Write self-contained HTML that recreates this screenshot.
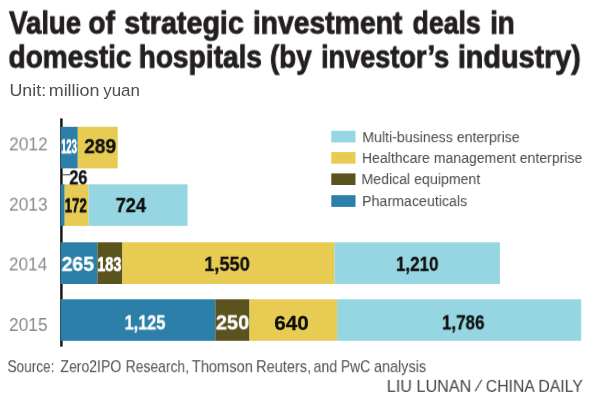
<!DOCTYPE html>
<html><head><meta charset="utf-8">
<style>
html,body{margin:0;padding:0;background:#fff;}
body{width:600px;height:400px;position:relative;overflow:hidden;font-family:"Liberation Sans",sans-serif;}
.t{position:absolute;left:0;top:0;white-space:nowrap;transform-origin:0 0;line-height:1;will-change:transform;}
svg{position:absolute;left:0;top:0;}
</style></head><body>
<svg width="600" height="400" viewBox="0 0 600 400">
<rect x="60.2" y="118.4" width="2.4" height="228.2" fill="#111"/>
<rect x="62.5" y="174.3" width="7.5" height="1" fill="#444"/>
<rect x="60.7" y="126.8" width="17.1" height="41.6" fill="#2b7fa9"/>
<rect x="77.8" y="126.8" width="39.9" height="41.6" fill="#e8cb52"/>
<rect x="60.7" y="184.3" width="4.0" height="41.6" fill="#2b7fa9"/>
<rect x="64.7" y="184.3" width="23.8" height="41.6" fill="#e8cb52"/>
<rect x="88.5" y="184.3" width="99" height="41.6" fill="#96d6e3"/>
<rect x="60.7" y="242.3" width="36.7" height="41.7" fill="#2b7fa9"/>
<rect x="97.4" y="242.3" width="25" height="41.7" fill="#5b531d"/>
<rect x="122.4" y="242.3" width="212.1" height="41.7" fill="#e8cb52"/>
<rect x="334.5" y="242.3" width="165.4" height="41.7" fill="#96d6e3"/>
<rect x="60.7" y="299.3" width="154.6" height="41.5" fill="#2b7fa9"/>
<rect x="215.3" y="299.3" width="34.2" height="41.5" fill="#5b531d"/>
<rect x="249.5" y="299.3" width="87.6" height="41.5" fill="#e8cb52"/>
<rect x="337.1" y="299.3" width="244.1" height="41.5" fill="#96d6e3"/>
<rect x="331.3" y="130.8" width="24.2" height="11.6" fill="#96d6e3"/>
<rect x="331.3" y="152.1" width="24.2" height="11.6" fill="#e8cb52"/>
<rect x="331.3" y="173.4" width="24.2" height="11.6" fill="#5b531d"/>
<rect x="331.3" y="195.2" width="24.2" height="11.7" fill="#2b7fa9"/>
</svg>
<div class="t" id="h1w0" style="font-size:31.00px;transform:translate(9.15px,7.58px) scaleX(0.8880);font-weight:bold;color:#231f20;-webkit-text-stroke:0.9px #231f20;">Value </div>
<div class="t" id="h1w1" style="font-size:31.00px;transform:translate(88.39px,7.58px) scaleX(0.9026);font-weight:bold;color:#231f20;-webkit-text-stroke:0.9px #231f20;">of </div>
<div class="t" id="h1w2" style="font-size:31.00px;transform:translate(124.33px,7.58px) scaleX(0.9248);font-weight:bold;color:#231f20;-webkit-text-stroke:0.9px #231f20;">strategic </div>
<div class="t" id="h1w3" style="font-size:31.00px;transform:translate(252.86px,7.58px) scaleX(0.9133);font-weight:bold;color:#231f20;-webkit-text-stroke:0.9px #231f20;">investment </div>
<div class="t" id="h1w4" style="font-size:31.00px;transform:translate(412.54px,7.58px) scaleX(0.8595);font-weight:bold;color:#231f20;-webkit-text-stroke:0.9px #231f20;">deals </div>
<div class="t" id="h1w5" style="font-size:31.00px;transform:translate(490.15px,7.58px) scaleX(0.8931);font-weight:bold;color:#231f20;-webkit-text-stroke:0.9px #231f20;">in </div>
<div class="t" id="h2w0" style="font-size:31.00px;transform:translate(8.49px,41.57px) scaleX(0.9038);font-weight:bold;color:#231f20;-webkit-text-stroke:0.9px #231f20;">domestic </div>
<div class="t" id="h2w1" style="font-size:31.00px;transform:translate(138.61px,41.57px) scaleX(0.9068);font-weight:bold;color:#231f20;-webkit-text-stroke:0.9px #231f20;">hospitals </div>
<div class="t" id="h2w2" style="font-size:31.00px;transform:translate(269.93px,41.57px) scaleX(0.8979);font-weight:bold;color:#231f20;-webkit-text-stroke:0.9px #231f20;">(by </div>
<div class="t" id="h2w3" style="font-size:31.00px;transform:translate(321.04px,41.57px) scaleX(0.8745);font-weight:bold;color:#231f20;-webkit-text-stroke:0.9px #231f20;">investor’s </div>
<div class="t" id="h2w4" style="font-size:31.00px;transform:translate(457.84px,41.57px) scaleX(0.9270);font-weight:bold;color:#231f20;-webkit-text-stroke:0.9px #231f20;">industry) </div>
<div class="t" id="y1" style="font-size:18.70px;transform:translate(9.04px,135.38px) scaleX(0.9292);color:#8a8a8a;">2012</div>
<div class="t" id="y2" style="font-size:18.70px;transform:translate(9.01px,195.64px) scaleX(0.9276);color:#8a8a8a;">2013</div>
<div class="t" id="y3" style="font-size:18.70px;transform:translate(8.92px,255.45px) scaleX(0.9198);color:#8a8a8a;">2014</div>
<div class="t" id="y4" style="font-size:18.70px;transform:translate(8.93px,315.96px) scaleX(0.9297);color:#8a8a8a;">2015</div>
<div class="t" id="v123" style="font-size:20.00px;transform:translate(61.05px,136.28px) scaleX(0.4751);font-weight:bold;color:#fff;-webkit-text-stroke:0.7px #fff;">123</div>
<div class="t" id="v289" style="font-size:20.00px;transform:translate(84.20px,136.08px) scaleX(0.9564);font-weight:bold;color:#111;-webkit-text-stroke:0.3px #111;">289</div>
<div class="t" id="v26" style="font-size:20.00px;transform:translate(69.36px,167.29px) scaleX(0.8133);font-weight:bold;color:#111;-webkit-text-stroke:0.3px #111;">26</div>
<div class="t" id="v172" style="font-size:20.00px;transform:translate(64.63px,195.29px) scaleX(0.6635);font-weight:bold;color:#111;-webkit-text-stroke:0.6px #111;">172</div>
<div class="t" id="v724" style="font-size:20.00px;transform:translate(115.69px,195.06px) scaleX(0.9073);font-weight:bold;color:#111;-webkit-text-stroke:0.3px #111;">724</div>
<div class="t" id="v265" style="font-size:20.00px;transform:translate(61.63px,253.87px) scaleX(0.9713);font-weight:bold;color:#fff;-webkit-text-stroke:0.3px #fff;">265</div>
<div class="t" id="v183" style="font-size:20.00px;transform:translate(97.29px,254.15px) scaleX(0.7244);font-weight:bold;color:#fff;-webkit-text-stroke:0.7px #fff;">183</div>
<div class="t" id="v1550" style="font-size:20.00px;transform:translate(204.20px,253.87px) scaleX(0.9096);font-weight:bold;color:#111;-webkit-text-stroke:0.3px #111;">1,550</div>
<div class="t" id="v1210" style="font-size:20.00px;transform:translate(395.94px,253.87px) scaleX(0.8488);font-weight:bold;color:#111;-webkit-text-stroke:0.3px #111;">1,210</div>
<div class="t" id="v1125" style="font-size:20.00px;transform:translate(124.57px,312.34px) scaleX(0.8139);font-weight:bold;color:#fff;-webkit-text-stroke:0.3px #fff;">1,125</div>
<div class="t" id="v250" style="font-size:20.00px;transform:translate(215.90px,312.34px) scaleX(0.9965);font-weight:bold;color:#fff;-webkit-text-stroke:0.3px #fff;">250</div>
<div class="t" id="v640" style="font-size:20.00px;transform:translate(274.18px,312.68px) scaleX(1.0342);font-weight:bold;color:#111;-webkit-text-stroke:0.3px #111;">640</div>
<div class="t" id="v1786" style="font-size:20.00px;transform:translate(441.97px,312.34px) scaleX(0.8479);font-weight:bold;color:#111;-webkit-text-stroke:0.3px #111;">1,786</div>
<div class="t" id="l1" style="font-size:15.40px;transform:translate(362.31px,129.17px) scaleX(0.9197);color:#4a4a4a;">Multi-business enterprise</div>
<div class="t" id="l2" style="font-size:15.40px;transform:translate(361.93px,149.88px) scaleX(0.9132);color:#4a4a4a;">Healthcare management enterprise</div>
<div class="t" id="l3" style="font-size:15.40px;transform:translate(361.45px,171.11px) scaleX(0.9195);color:#4a4a4a;">Medical equipment</div>
<div class="t" id="l4" style="font-size:15.40px;transform:translate(362.05px,193.11px) scaleX(0.9241);color:#4a4a4a;">Pharmaceuticals</div>
<div class="t" id="unitw0" style="font-size:16.70px;transform:translate(9.45px,83.09px) scaleX(1.0712);color:#4d4d4d;">Unit: </div>
<div class="t" id="unitw1" style="font-size:16.70px;transform:translate(48.72px,83.09px) scaleX(1.0733);color:#4d4d4d;">million </div>
<div class="t" id="unitw2" style="font-size:16.70px;transform:translate(103.21px,83.09px) scaleX(1.0140);color:#4d4d4d;">yuan </div>
<div class="t" id="srcw0" style="font-size:16.60px;transform:translate(7.51px,359.16px) scaleX(0.8208);color:#505050;">Source: </div>
<div class="t" id="srcw1" style="font-size:16.60px;transform:translate(60.35px,359.16px) scaleX(0.8465);color:#505050;">Zero2IPO </div>
<div class="t" id="srcw2" style="font-size:16.60px;transform:translate(125.71px,359.16px) scaleX(0.8365);color:#505050;">Research, </div>
<div class="t" id="srcw3" style="font-size:16.60px;transform:translate(191.84px,359.16px) scaleX(0.8810);color:#505050;">Thomson </div>
<div class="t" id="srcw4" style="font-size:16.60px;transform:translate(255.97px,359.16px) scaleX(0.8806);color:#505050;">Reuters, </div>
<div class="t" id="srcw5" style="font-size:16.60px;transform:translate(313.59px,359.16px) scaleX(0.8483);color:#505050;">and </div>
<div class="t" id="srcw6" style="font-size:16.60px;transform:translate(340.91px,359.16px) scaleX(0.8376);color:#505050;">PwC </div>
<div class="t" id="srcw7" style="font-size:16.60px;transform:translate(373.93px,359.16px) scaleX(0.8698);color:#505050;">analysis </div>
<div class="t" id="credw0" style="font-size:16.50px;transform:translate(386.75px,377.82px) scaleX(0.9815);color:#444;">LIU LUNAN </div>
<div class="t" id="credw1" style="font-size:16.50px;transform:translate(478.67px,376.94px) scaleX(0.9959) skewX(-16deg);color:#444;">/ </div>
<div class="t" id="credw2" style="font-size:16.50px;transform:translate(485.75px,377.82px) scaleX(0.9562);color:#444;">CHINA DAILY </div>
</body></html>
